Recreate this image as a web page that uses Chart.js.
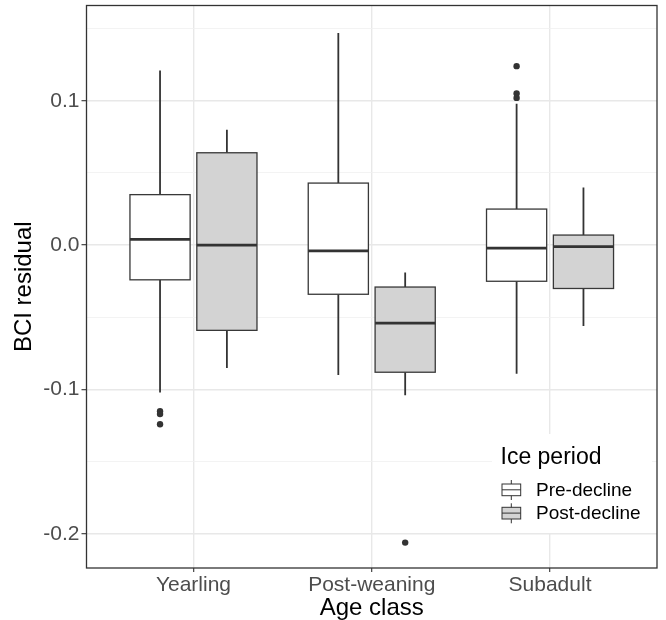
<!DOCTYPE html>
<html>
<head>
<meta charset="utf-8">
<script src="https://cdn.jsdelivr.net/npm/chart.js@4.4.1/dist/chart.umd.min.js"></script>
<style>
  html, body { margin: 0; padding: 0; background: #fff; }
  #wrap { width: 666px; height: 620px; }
</style>
</head>
<body>
<div id="wrap"><canvas id="chart" width="666" height="620"></canvas></div>
<script>
// data
const categories = ['Yearling', 'Post-weaning', 'Subadult'];
const periods = ['Pre-decline', 'Post-decline'];

const preLow  = [-0.102, -0.090, -0.089];
const preQ1   = [-0.024, -0.034, -0.025];
const preMed  = [ 0.004, -0.004, -0.002];
const preQ3   = [ 0.035,  0.043,  0.025];
const preHigh = [ 0.121,  0.147,  0.098];
const preOutliers = [[-0.115, -0.117, -0.124], [], [0.124, 0.105, 0.102]];

const postLow  = [-0.085, -0.104, -0.056];
const postQ1   = [-0.059, -0.088, -0.030];
const postMed  = [ 0.000, -0.054, -0.001];
const postQ3   = [ 0.064, -0.029,  0.007];
const postHigh = [ 0.080, -0.019,  0.040];
const postOutliers = [[], [-0.206], []];

const yTicks = [-0.2, -0.15, -0.1, -0.05, 0, 0.05, 0.1, 0.15];

// layout stuff
const dodge = [-0.1875, 0.1875];
const boxHalf = 0.16875;
const fills = ['#FFFFFF', '#D3D3D3'];
const dark = '#333333';
const FONT = '"Liberation Sans", Arial, Helvetica, sans-serif';
Chart.defaults.font.family = FONT;

const groups = [
  { low: preLow, q1: preQ1, med: preMed, q3: preQ3, high: preHigh, out: preOutliers },
  { low: postLow, q1: postQ1, med: postMed, q3: postQ3, high: postHigh, out: postOutliers }
];

const isMajor = v => Math.abs(v * 10 - Math.round(v * 10)) < 1e-9;

const boxPlugin = {
  id: 'boxes',
  beforeDatasetsDraw(chart) {
    const { ctx, scales: { x, y } } = chart;
    ctx.save();
    groups.forEach((g, gi) => {
      categories.forEach((c, i) => {
        const xv = i + dodge[gi];
        const cx = x.getPixelForValue(xv);
        const hw = Math.abs(x.getPixelForValue(xv + boxHalf) - cx);
        const pLow = y.getPixelForValue(g.low[i]);
        const pQ1 = y.getPixelForValue(g.q1[i]);
        const pMed = y.getPixelForValue(g.med[i]);
        const pQ3 = y.getPixelForValue(g.q3[i]);
        const pHigh = y.getPixelForValue(g.high[i]);

        ctx.strokeStyle = dark;
        ctx.lineWidth = 1.8;
        ctx.beginPath();
        ctx.moveTo(cx, pHigh); ctx.lineTo(cx, pQ3);
        ctx.moveTo(cx, pQ1); ctx.lineTo(cx, pLow);
        ctx.stroke();

        ctx.fillStyle = fills[gi];
        ctx.fillRect(cx - hw, pQ3, 2 * hw, pQ1 - pQ3);
        ctx.lineWidth = 1.3;
        ctx.strokeStyle = '#383838';
        ctx.strokeRect(cx - hw, pQ3, 2 * hw, pQ1 - pQ3);

        ctx.strokeStyle = dark;
        ctx.lineWidth = 2.8;
        ctx.beginPath();
        ctx.moveTo(cx - hw, pMed); ctx.lineTo(cx + hw, pMed);
        ctx.stroke();
      });
    });
    ctx.restore();
  },
  afterDraw(chart) {
    const { ctx, chartArea: a } = chart;
    ctx.save();
    // legend (inside panel)
    ctx.fillStyle = '#fff';
    ctx.fillRect(492, 434, 160, 99);
    ctx.fillStyle = '#000';
    ctx.font = '23px ' + FONT;
    ctx.textBaseline = 'alphabetic';
    ctx.textAlign = 'left';
    ctx.fillText('Ice period', 500.5, 463.5);
    periods.forEach((p, gi) => {
      const top = 480 + gi * 23.3;
      const kx = 511.3;
      ctx.strokeStyle = dark;
      ctx.lineWidth = 1;
      ctx.beginPath();
      ctx.moveTo(kx, top); ctx.lineTo(kx, top + 20);
      ctx.stroke();
      ctx.fillStyle = fills[gi];
      ctx.fillRect(502, top + 4, 18.7, 11.7);
      ctx.strokeRect(502, top + 4, 18.7, 11.7);
      ctx.beginPath();
      ctx.moveTo(502, top + 9.8); ctx.lineTo(520.7, top + 9.8);
      ctx.stroke();
      ctx.fillStyle = '#000';
      ctx.font = '19px ' + FONT;
      ctx.textBaseline = 'middle';
      ctx.fillText(p, 536, top + 10.5);
    });
    // panel border
    ctx.strokeStyle = dark;
    ctx.lineWidth = 1.3;
    ctx.strokeRect(a.left, a.top, a.right - a.left, a.bottom - a.top);
    ctx.restore();
  }
};

const outlierSets = groups.map((g, gi) => ({
  label: periods[gi],
  data: g.out.flatMap((vals, i) => vals.map(v => ({ x: i + dodge[gi], y: v }))),
  pointRadius: 3.2,
  pointHoverRadius: 3.2,
  backgroundColor: dark,
  borderWidth: 0
}));

new Chart(document.getElementById('chart'), {
  type: 'scatter',
  data: { datasets: outlierSets },
  plugins: [boxPlugin],
  options: {
    responsive: false,
    animation: false,
    events: [],
    layout: { padding: { top: 5.5, right: 9, left: 0, bottom: 0 } },
    plugins: { legend: { display: false }, tooltip: { enabled: false } },
    scales: {
      x: {
        type: 'linear',
        min: -0.6,
        max: 2.6,
        afterBuildTicks: s => { s.ticks = categories.map((c, i) => ({ value: i })); },
        afterFit: s => { s.height = 52; s.paddingLeft = 0; s.paddingRight = 0; },
        grid: { color: '#E8E8E8', lineWidth: 1.4, tickLength: 4, tickColor: dark, tickWidth: 1.1 },
        border: { display: false },
        ticks: {
          callback: v => categories[v],
          autoSkip: false, maxRotation: 0, padding: 1,
          color: '#4D4D4D', font: { size: 21 }
        },
        title: {
          display: true, text: 'Age class', color: '#000',
          font: { size: 24, lineHeight: 1 }, padding: { top: 0, bottom: 0 }
        }
      },
      y: {
        type: 'linear',
        min: -0.2236,
        max: 0.166,
        afterBuildTicks: s => { s.ticks = yTicks.map(v => ({ value: v })); },
        afterFit: s => { s.width = 86.5; s.paddingTop = 0; s.paddingBottom = 0; },
        grid: {
          color: c => isMajor(c.tick.value) ? '#E8E8E8' : '#F0F0F0',
          lineWidth: c => isMajor(c.tick.value) ? 1.4 : 0.8,
          tickLength: 5,
          tickColor: c => isMajor(c.tick.value) ? dark : 'rgba(0,0,0,0)',
          tickWidth: 1.1
        },
        border: { display: false },
        ticks: {
          callback: v => isMajor(v) ? v.toFixed(1) : '',
          padding: 2, color: '#4D4D4D', font: { size: 21 }
        },
        title: {
          display: true, text: 'BCI residual', color: '#000',
          font: { size: 24, lineHeight: 1 }, padding: { top: 12.5, bottom: 0 }
        }
      }
    }
  }
});
</script>
</body>
</html>
